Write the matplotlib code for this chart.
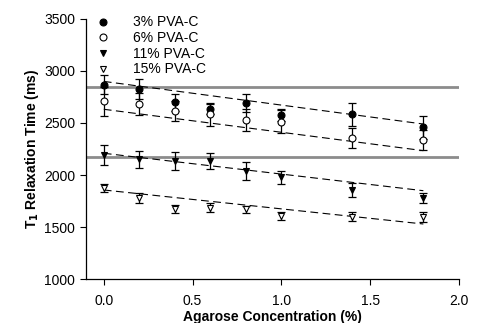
import matplotlib
matplotlib.use("Agg")
import matplotlib.pyplot as plt
import numpy as np

plt.rcParams['font.family'] = ['Liberation Sans', 'DejaVu Sans']

# агароза, %
agarose = [0.0, 0.2, 0.4, 0.6, 0.8, 1.0, 1.4, 1.8]

# T1, ms
t1_3 = [2870, 2827, 2699, 2635, 2692, 2577, 2583, 2459]
err_3 = [90, 100, 80, 50, 85, 60, 110, 110]
t1_6 = [2707, 2686, 2615, 2583, 2529, 2512, 2353, 2337]
err_6 = [140, 105, 100, 110, 110, 110, 96, 100]
t1_11 = [2192, 2151, 2135, 2135, 2038, 1978, 1856, 1776]
err_11 = [96, 83, 83, 74, 83, 64, 70, 48]
t1_15 = [1872, 1776, 1670, 1686, 1670, 1606, 1599, 1599]
err_15 = [38, 50, 38, 42, 32, 41, 45, 50]

# линейные аппроксимации: значения на концах (x = 0 и x = 1.8)
fit_x = [0.0, 1.8]
fit_3 = [2900, 2490]
fit_6 = [2632, 2234]
fit_11 = [2209, 1849]
fit_15 = [1856, 1529]

# горизонтальные серые линии
ref_levels = [2850, 2170]

labels = ['3% PVA-C', '6% PVA-C', '11% PVA-C', '15% PVA-C']

fig = plt.figure(figsize=(4.82, 3.23), dpi=100)
ax = fig.add_axes([0.1785, 0.1362, 0.7735, 0.8050])

for lv in ref_levels:
    ax.axhline(lv, color='#8c8c8c', linewidth=2, zorder=1)

for fy in [fit_3, fit_6, fit_11, fit_15]:
    ax.plot(fit_x, fy, color='black', linewidth=0.8, dashes=(7, 4), zorder=2)

series = [
    (t1_3, err_3, 'o', 'black'),
    (t1_6, err_6, 'o', 'white'),
    (t1_11, err_11, 'v', 'black'),
    (t1_15, err_15, 'v', 'white'),
]
for (y, e, m, fc), lab in zip(series, labels):
    ax.errorbar(agarose, y, yerr=e, fmt='none', ecolor='black',
                elinewidth=0.9, capsize=3, capthick=0.9, zorder=3)
    ax.plot(agarose, y, linestyle='none', marker=m, markersize=5,
            markerfacecolor=fc, markeredgecolor='black', markeredgewidth=0.8,
            label=lab, zorder=4)

ax.set_xlim(-0.1, 2.0)
ax.set_ylim(1000, 3500)
ax.set_xticks([0.0, 0.5, 1.0, 1.5, 2.0])
ax.set_yticks([1000, 1500, 2000, 2500, 3000, 3500])
ax.set_xticklabels(['0.0', '0.5', '1.0', '1.5', '2.0'])
ax.tick_params(direction='out', length=4, width=0.8, labelsize=10)
ax.tick_params(axis='x', pad=7)
ax.tick_params(axis='y', pad=4)

ax.spines['top'].set_visible(False)
ax.spines['right'].set_visible(False)
ax.spines['left'].set_linewidth(0.9)
ax.spines['bottom'].set_linewidth(0.9)

ax.set_xlabel('Agarose Concentration (%)', fontsize=10, fontweight='bold', labelpad=1)
ax.set_ylabel('T$_\\mathbf{1}$ Relaxation Time (ms)', fontsize=10, fontweight='bold', labelpad=2)

ax.legend(loc='upper left', frameon=False, fontsize=10, handletextpad=1.45,
          labelspacing=0.12, borderaxespad=0.0, handlelength=1.5,
          bbox_to_anchor=(0.002, 1.035))

fig.savefig('out.png', dpi=100)
